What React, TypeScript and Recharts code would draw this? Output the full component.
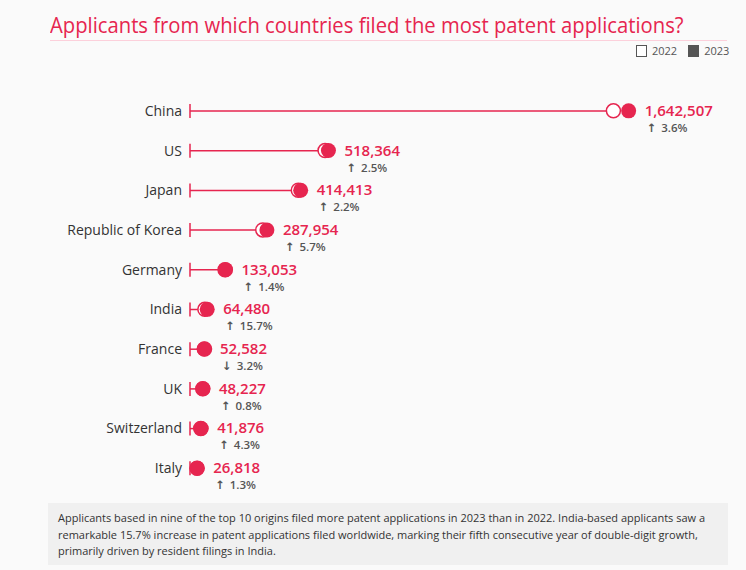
import React from "react";
import { ComposedChart, Bar, Scatter, XAxis, YAxis } from "recharts";

const countries = [
  "China",
  "US",
  "Japan",
  "Republic of Korea",
  "Germany",
  "India",
  "France",
  "UK",
  "Switzerland",
  "Italy",
];
const filed2023 = [1642507, 518364, 414413, 287954, 133053, 64480, 52582, 48227, 41876, 26818];
// 2022 levels, estimated from the 2023 values and the growth shown
const filed2022 = [1585400, 505700, 405500, 272400, 131200, 55700, 54320, 47840, 40150, 26470];
const changePct = [3.6, 2.5, 2.2, 5.7, 1.4, 15.7, -3.2, 0.8, 4.3, 1.3];

const RED = "#e6254f";
const FONT = "'Open Sans', 'Noto Sans', sans-serif";

const data = countries.map((country, i) => ({
  country,
  v2022: filed2022[i],
  v2023: filed2023[i],
  pct: changePct[i],
}));

// thin line from zero to the 2022 level, with a short bar at the start
const StemShape = (props: any) => {
  const { x, y, width, height } = props;
  const cy = y + height / 2;
  return (
    <g>
      <line x1={x} x2={x + width} y1={cy} y2={cy} stroke={RED} strokeWidth={1.5} />
      <line x1={x} x2={x} y1={cy - 7} y2={cy + 7} stroke={RED} strokeWidth={1.5} />
    </g>
  );
};

const Dot2022 = (props: any) => {
  const { cx, cy } = props;
  return <circle cx={cx} cy={cy} r={7} fill="#fff" stroke={RED} strokeWidth={1.5} />;
};

const Dot2023 = (props: any) => {
  const { cx, cy, payload } = props;
  const up = payload.pct >= 0;
  return (
    <g>
      <circle cx={cx} cy={cy} r={7.5} fill={RED} />
      <text x={cx + 16} y={cy + 5} fill={RED} fontSize={15} fontWeight={600} fontFamily={FONT}>
        {payload.v2023.toLocaleString("en-US")}
      </text>
      <text x={cx + 18} y={cy + 21} fill="#555" fontSize={11.5} fontWeight={600} fontFamily={FONT}>
        <tspan fontFamily="'DejaVu Sans', sans-serif">{up ? "↑" : "↓"}</tspan>
        <tspan dx={5}>{`${Math.abs(payload.pct).toFixed(1)}%`}</tspan>
      </text>
    </g>
  );
};

export default function App() {
  return (
    <div
      style={{
        position: "relative",
        width: 746,
        height: 570,
        background: "#fafafa",
        fontFamily: FONT,
        overflow: "hidden",
      }}
    >
      <style>{`body{margin:0}`}</style>
      <div
        style={{
          position: "absolute",
          left: 50,
          top: 9,
          fontSize: 22,
          color: RED,
          whiteSpace: "nowrap",
          transform: "scaleX(0.92)",
          transformOrigin: "left top",
        }}
      >
        Applicants from which countries filed the most patent applications?
      </div>
      <div style={{ position: "absolute", left: 50, top: 40, width: 677, height: 1, background: "#fcd0db" }} />

      {/* legend */}
      <div
        style={{
          position: "absolute",
          left: 636,
          top: 43,
          display: "flex",
          alignItems: "center",
          fontSize: 11,
          color: "#555",
          fontWeight: 500,
        }}
      >
        <span style={{ width: 9, height: 10, border: "1px solid #555", background: "#fff", marginRight: 5 }} />
        <span style={{ marginRight: 11 }}>2022</span>
        <span style={{ width: 11, height: 12, background: "#555", marginRight: 5 }} />
        <span>2023</span>
      </div>

      <div style={{ position: "absolute", left: 0, top: 91 }}>
        <ComposedChart
          width={746}
          height={417}
          data={data}
          layout="vertical"
          margin={{ top: 0, right: 102, bottom: 20, left: 0 }}
        >
          <XAxis type="number" domain={[0, 1700000]} hide />
          <YAxis
            type="category"
            dataKey="country"
            width={190}
            axisLine={false}
            tickLine={false}
            tick={{ fill: "#333", fontSize: 14, fontFamily: FONT }}
          />
          <Bar dataKey="v2022" barSize={14} shape={StemShape} isAnimationActive={false} />
          <Scatter dataKey="v2022" shape={Dot2022} isAnimationActive={false} />
          <Scatter dataKey="v2023" shape={Dot2023} isAnimationActive={false} />
        </ComposedChart>
      </div>

      <div
        style={{
          position: "absolute",
          left: 48,
          top: 503,
          width: 680,
          height: 62,
          background: "#f0f0f0",
          boxSizing: "border-box",
          padding: "7px 10px",
          fontSize: 11,
          lineHeight: "16.5px",
          color: "#333",
          whiteSpace: "nowrap",
        }}
      >
        Applicants based in nine of the top 10 origins filed more patent applications in 2023 than in 2022. India-based applicants saw a
        <br />
        remarkable 15.7% increase in patent applications filed worldwide, marking their fifth consecutive year of double-digit growth,
        <br />
        primarily driven by resident filings in India.
      </div>
    </div>
  );
}
